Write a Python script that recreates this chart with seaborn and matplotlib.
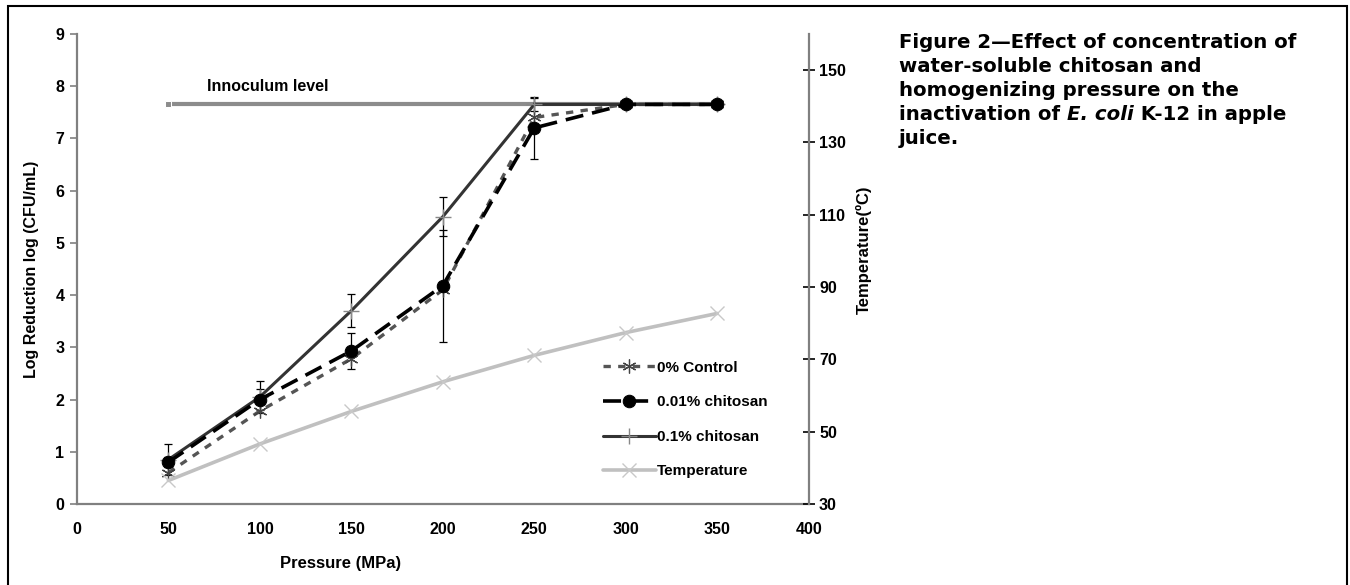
import numpy as np
import matplotlib
matplotlib.use("Agg")
import matplotlib.pyplot as plt
from matplotlib.patches import Rectangle
import seaborn as sns

# data
pressure = [50, 100, 150, 200, 250, 300, 350]
control = [0.6, 1.78, 2.78, 4.1, 7.4, 7.65, 7.65]
chit_001 = [0.8, 2.0, 2.93, 4.18, 7.2, 7.65, 7.65]
chit_001_err = [0.1, 0.2, 0.35, 1.07, 0.6, 0.0, 0.0]
chit_01 = [0.85, 2.05, 3.7, 5.5, 7.65, 7.65, 7.65]
chit_01_err = [0.3, 0.3, 0.32, 0.37, 0.13, 0.0, 0.0]
temperature = [36.5, 46.6, 55.6, 63.8, 71.1, 77.4, 82.7]
inoculum_x = [50, 350]
inoculum_y = [7.65, 7.65]

sns.set_theme(style="white")
plt.rcParams['font.family'] = ['Liberation Sans', 'DejaVu Sans']
plt.rcParams['font.weight'] = 'bold'
plt.rcParams['text.color'] = 'black'
plt.rcParams['axes.labelcolor'] = 'black'
plt.rcParams['xtick.color'] = 'black'
plt.rcParams['ytick.color'] = 'black'

fig = plt.figure(figsize=(13.5, 5.85), dpi=100)
ax = fig.add_axes([0.057, 0.1385, 0.542, 0.8035])
ax2 = ax.twinx()

spine_col = '#808080'

# inoculum level
sns.lineplot(x=inoculum_x, y=inoculum_y, ax=ax, color='#8c8c8c', linewidth=3,
             marker='s', markersize=5, markevery=[0], errorbar=None)
ax.text(71, 7.99, 'Innoculum level', fontsize=11.5, fontweight='bold',
        va='center', ha='left', color='black')

# error bars
ax.errorbar(pressure, chit_001, yerr=chit_001_err, fmt='none', ecolor='black',
            elinewidth=0.9, capsize=3, capthick=0.9, zorder=3)
ax.errorbar(pressure, chit_01, yerr=chit_01_err, fmt='none', ecolor='black',
            elinewidth=0.9, capsize=3, capthick=0.9, zorder=3)

sns.lineplot(x=pressure, y=control, ax=ax, color='#555555', linewidth=2.4,
             linestyle=(0, (2.2, 2.2)), marker=(6, 2, 0), markersize=10,
             markeredgecolor='#444444', markeredgewidth=0.9, errorbar=None,
             label='0% Control', zorder=4)
sns.lineplot(x=pressure, y=chit_001, ax=ax, color='black', linewidth=2.6,
             linestyle=(0, (5, 2.5)), marker='o', markersize=9,
             markeredgecolor='black', errorbar=None,
             label='0.01% chitosan', zorder=5)
sns.lineplot(x=pressure, y=chit_01, ax=ax, color='#333333', linewidth=2.2,
             marker='+', markersize=12, markeredgecolor='#888888',
             markeredgewidth=1, errorbar=None, label='0.1% chitosan', zorder=4)

sns.lineplot(x=pressure, y=temperature, ax=ax2, color='#c0c0c0', linewidth=2.6,
             marker='x', markersize=10, markeredgecolor='#c8c8c8',
             markeredgewidth=1, errorbar=None, label='Temperature')

ax.set_xlim(0, 400)
ax.set_ylim(0, 9)
ax2.set_ylim(30, 160)
ax.set_xticks(np.arange(0, 401, 50))
ax.set_yticks(np.arange(0, 10, 1))
ax2.set_yticks(np.arange(30, 151, 20))

for a in (ax, ax2):
    a.spines['top'].set_visible(False)
    for s in ('left', 'bottom', 'right'):
        a.spines[s].set_color(spine_col)
        a.spines[s].set_linewidth(1.6)
ax.spines['right'].set_visible(False)
ax2.spines['left'].set_visible(False)
ax2.spines['bottom'].set_visible(False)

ax.tick_params(axis='both', labelsize=11.5, labelcolor='black', length=5,
               width=1.2, direction='out', pad=4)
ax.tick_params(axis='x', color=spine_col, pad=8)
ax.tick_params(axis='y', color=spine_col)
ax2.tick_params(axis='y', labelsize=11.5, length=9, width=1.2,
                direction='inout', color='black', labelcolor='black', pad=3)

ax.set_xlabel('Pressure (MPa)', fontsize=12, fontweight='bold')
ax.xaxis.set_label_coords(0.36, -0.11)
ax.set_ylabel('Log Reduction log (CFU/mL)', fontsize=11.5, fontweight='bold')
ax.yaxis.set_label_coords(-0.052, 0.5)
ax2.set_ylabel('Temperature(\u00baC)', fontsize=12, fontweight='bold')
ax2.yaxis.set_label_coords(1.064, 0.54)

# legend combining both axes
h1, l1 = ax.get_legend_handles_labels()
h2, l2 = ax2.get_legend_handles_labels()
if ax.get_legend():
    ax.get_legend().remove()
if ax2.get_legend():
    ax2.get_legend().remove()
leg = ax2.legend(h1 + h2, l1 + l2, loc='upper left', bbox_to_anchor=(0.71, 0.318),
                 frameon=False, fontsize=11, labelspacing=1.35, handlelength=3.5,
                 handletextpad=0.05, borderaxespad=0)

# caption on the right
cap_kw = dict(fontsize=14.2, fontweight='bold', family=['DejaVu Sans'],
              va='baseline', ha='left', color='black')
cx = 0.666
lines = ['Figure 2\u2014Effect of concentration of',
         'water-soluble chitosan and',
         'homogenizing pressure on the']
base = 1 - 48 / 585
step = 24 / 585
for i, s in enumerate(lines):
    fig.text(cx, base - i * step, s, **cap_kw)
y4 = base - 3 * step
fig.canvas.draw()
r = fig.canvas.get_renderer()
t1 = fig.text(cx, y4, 'inactivation of ', **cap_kw)
w = t1.get_window_extent(r).width / fig.bbox.width
t2 = fig.text(cx + w, y4, 'E. coli', style='italic', **cap_kw)
w2 = t2.get_window_extent(r).width / fig.bbox.width
fig.text(cx + w + w2, y4, ' K-12 in apple', **cap_kw)
fig.text(cx, base - 4 * step, 'juice.', **cap_kw)

# outer frame
fig.patches.append(Rectangle((8 / 1350, -0.02), 1339 / 1350, 1.02 - 6 / 585,
                             transform=fig.transFigure, fill=False,
                             edgecolor='black', linewidth=1.5))

fig.savefig('out.png', dpi=100)
